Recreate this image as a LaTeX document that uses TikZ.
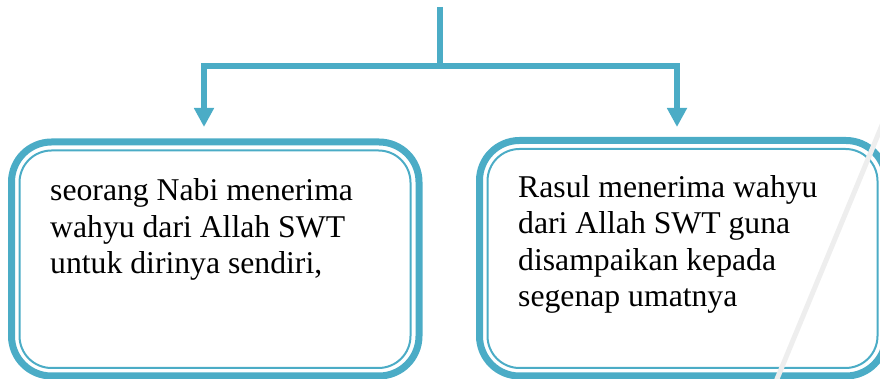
\documentclass[tikz,border=0pt]{standalone}
\usepackage{fontspec}
\setmainfont{Liberation Serif}
\usetikzlibrary{arrows.meta,calc}
\definecolor{aqua}{RGB}{75,172,198}
\definecolor{streak}{RGB}{238,238,238}
\tikzset{
  conn/.style={draw=aqua, line width=6pt, line join=miter},
  arr/.style={conn, -{Triangle[length=19pt,width=19pt]}},
  outerbox/.style={draw=aqua, line width=7pt, rounded corners=40pt, inner sep=0pt, outer sep=0pt},
  innerline/.style={draw=aqua, line width=2pt, rounded corners=32pt},
  txt/.style={align=left, anchor=base west, inner sep=0pt, font=\fontsize{31.7}{36.5}\selectfont}
}
\begin{document}
\begin{tikzpicture}[x=1pt,y=1pt]
\useasboundingbox (0,0) rectangle (880,379);
\clip (0,0) rectangle (880,379);
% boxes
\node[outerbox, minimum width=407.5pt, minimum height=234pt] (L) at (215.25,120) {};
\node[outerbox, minimum width=406.5pt, minimum height=235.5pt] (R) at (682.75,120.75) {};
\draw[innerline] ([shift={(8,-8.5)}]L.north west) rectangle ([shift={(-8.5,8)}]L.south east);
\draw[innerline] ([shift={(8,-8.5)}]R.north west) rectangle ([shift={(-8.5,8)}]R.south east);
% connectors
\coordinate (top) at (440,372);
\coordinate (j) at (440,313);
\coordinate (lt) at (204,252);
\coordinate (rt) at (677,252);
\draw[conn] (top) -- (j);
\draw[arr] (j) -| (lt);
\draw[arr] (j) -| (rt);
% texts (base anchor = baseline of last line)
\node[txt] (tl) at (50,105) {seorang Nabi menerima\\wahyu dari Allah SWT\\untuk dirinya sendiri,};
\node[txt] (tr) at (518,72) {Rasul menerima wahyu\\dari Allah SWT guna\\disampaikan kepada\\segenap umatnya};
% light streak
\draw[streak, line width=5pt] (886.2,264) -- (771.2,-14);
\end{tikzpicture}
\end{document}
